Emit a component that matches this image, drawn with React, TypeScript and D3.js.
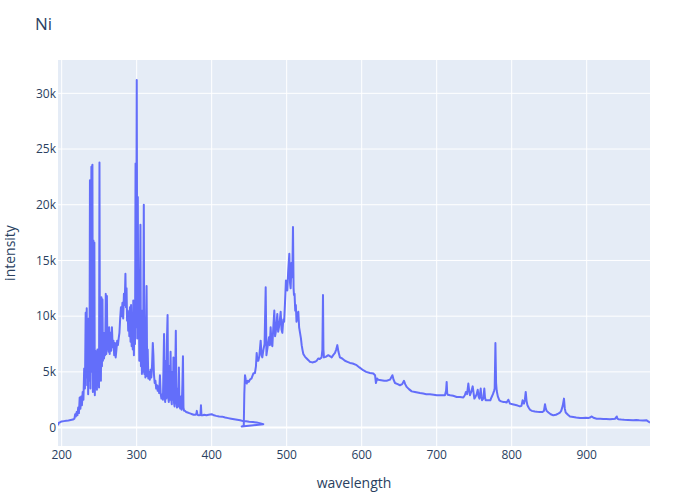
import React from "react";
import * as d3 from "d3";

const chartTitle = "Ni";
const xTitle = "wavelength";
const yTitle = "intensity";
const xTicks = [200, 300, 400, 500, 600, 700, 800, 900];
const yTicks = [0, 5000, 10000, 15000, 20000, 25000, 30000];

// spectrometer 1 (UV / blue): [wavelength, intensity]
const segmentA: [number, number][] = [
  [195.1, 200], [196, 420], [198, 480], [200, 550], [203, 580], [206, 610], [209, 640], [212, 680], [215, 720],
  [217, 800], [218, 1200], [219, 1000], [220, 1400], [221, 1100], [222, 1800], [223, 1300], [224, 2700], [225, 1700],
  [226, 2800], [227, 2000], [228, 3200], [229, 2500], [230, 5300], [231, 3500], [232, 10300], [232.7, 4500],
  [233.4, 10700], [234, 3800], [234.7, 9500], [235.3, 3000], [236, 9800], [236.6, 4200], [237.2, 8000], [237.7, 22200],
  [238.3, 3500], [239, 8500], [239.6, 23400], [240.3, 5000], [241, 23600], [241.6, 3200], [242.3, 16800], [243, 4500],
  [243.6, 16600], [244.2, 2900], [245, 6900], [245.7, 3600], [246.4, 6000], [247, 3400], [247.7, 7000], [248.4, 4000],
  [249, 6500], [249.8, 3600], [250.4, 23800], [251, 5000], [251.7, 8000], [252.3, 4200], [253, 11700], [253.7, 5500],
  [254.4, 11500], [255, 6000], [255.8, 8500], [256.5, 6200], [257.3, 7500], [258, 6500], [258.8, 12000], [259.5, 6600],
  [260.3, 11800], [261, 7000], [261.7, 8000], [262.5, 6800], [263.3, 9000], [264, 6600], [265, 8500], [266, 6900],
  [267, 9000], [268, 7200], [269, 7800], [270, 6500], [271, 7600], [272, 6300], [273, 7000], [274, 7800], [275, 7400],
  [276, 8000], [277, 8500], [278, 9800], [279, 10800], [280, 10000], [281, 11200], [282, 9800], [283, 12000],
  [284, 11000], [285, 13800], [285.7, 10800], [286.5, 12500], [287.2, 9600], [288, 10500], [288.7, 8700],
  [289.5, 10300], [290.2, 8200], [291, 10800], [291.8, 7700], [292.5, 11000], [293.3, 7300], [294, 10200],
  [294.8, 7000], [295.5, 11400], [296.3, 6500], [297, 11200], [297.8, 7500], [298.5, 23700], [299.3, 9000],
  [300.1, 31200], [300.8, 8000], [301.5, 20700], [302.2, 9000], [302.8, 12000], [303.5, 6000], [304.2, 10500],
  [305, 18200], [305.7, 5500], [306.4, 9000], [307, 4800], [307.8, 10500], [308.5, 5000], [309.5, 20000],
  [310.2, 4800], [311, 9000], [311.6, 4500], [312.3, 8000], [313.2, 12700], [314, 4600], [314.7, 7000], [315.5, 4400],
  [316.5, 5000], [317.5, 4300], [318.5, 5200], [319.5, 4500], [320.5, 5600], [321.5, 7600], [322.3, 6500],
  [323, 4800], [324, 4000], [325, 4200], [326, 3500], [327, 3800], [328, 3300], [329, 3700], [330, 3100], [331, 4700],
  [332, 3000], [333, 2600], [334, 3000], [335, 2500], [335.8, 5600], [336.5, 8400], [337.2, 3000], [338, 2300],
  [338.7, 6000], [339.5, 2600], [340.2, 7500], [341.2, 10100], [342, 2800], [342.8, 2300], [343.5, 5500],
  [344.2, 2500], [345.2, 6800], [346, 2600], [346.8, 2100], [347.5, 5000], [348.3, 2500], [349, 6300], [349.8, 2200],
  [350.5, 1900], [351.3, 4500], [352.2, 8700], [353, 2300], [353.8, 1800], [354.6, 3500], [355.3, 1900], [356.3, 5400],
  [357, 2000], [358, 1700], [359, 2800], [360, 1600], [361, 4000], [361.7, 6400], [362.4, 1800], [363.2, 1500],
  [364.5, 1500], [366, 1400], [368, 1350], [370, 1300], [372, 1250], [374, 1200], [376, 1150], [378, 1150],
  [379.5, 1200], [380.2, 1500], [381, 1150], [383, 1100], [385, 1150], [385.7, 2000], [386.4, 1100], [388, 1100],
  [390, 1150], [393, 1100], [396, 1150], [400, 1200], [403, 1100], [406, 1050], [410, 1000], [414, 980], [418, 900],
  [422, 850], [426, 800], [430, 750], [434, 700], [438, 650], [442, 580], [446, 560], [450, 530], [455, 500],
  [460, 450], [464, 400], [468.8, 300],
];

// spectrometer 2 (visible / NIR): [wavelength, intensity]
const segmentB: [number, number][] = [
  [440, 100], [441.5, 130], [442.8, 200], [443.5, 3000], [444.4, 4700], [445.5, 4300], [446.7, 3950], [448, 4200],
  [449.5, 4100], [451, 4300], [453, 4400], [455.5, 4850], [457.7, 4900], [459, 5500], [460, 6700], [461, 6000],
  [462.2, 6000], [463.5, 6400], [465.3, 7800], [466.5, 6500], [467.5, 6300], [469, 7000], [470.5, 7500],
  [472, 12600], [473, 6500], [474.5, 7200], [476.4, 8100], [477.5, 7400], [478.6, 9000], [479.8, 7600],
  [480.9, 7300], [482, 8800], [483.5, 10500], [484.5, 8200], [485.3, 8500], [486.4, 9200], [487.5, 10200],
  [488.6, 8600], [489.7, 9000], [490.8, 9600], [492, 10400], [493.1, 8800], [494.2, 8500], [495.5, 9700],
  [496.6, 9500], [497.7, 11100], [499, 13200], [500, 12500], [500.8, 12300], [502, 14000], [503.5, 15600],
  [504.4, 13000], [505.3, 12500], [506.5, 14800], [507.5, 13500], [508.4, 18000], [509.2, 12500], [509.7, 11900],
  [510.5, 12000], [511.4, 10500], [512.2, 11000], [513.1, 9500], [514.3, 10000], [515.5, 10400], [516.6, 9000],
  [517.8, 8500], [519, 8000], [520, 7400], [521, 7000], [522.2, 6600], [524.5, 6350], [526.7, 6200], [529, 6050],
  [531, 5900], [534, 5850], [537.7, 5900], [540, 6000], [542, 6200], [544, 6150], [546.5, 6300], [547.6, 7000],
  [548.4, 11900], [549, 7000], [549.7, 6300], [552, 6350], [555.5, 6500], [558, 6400], [560, 6300], [562, 6500],
  [564.4, 6700], [566, 7000], [567.5, 7400], [569, 6800], [571, 6300], [574, 6200], [577.7, 6000], [581, 5900],
  [584.4, 5800], [588, 5750], [593.3, 5600], [597, 5400], [602, 5150], [606, 5000], [611, 4900], [615.5, 4850],
  [617.8, 4700], [619, 4000], [620.5, 4400], [622, 4300], [626, 4250], [630, 4200], [633.3, 4200], [637.7, 4300],
  [641, 4700], [642.5, 4300], [644.4, 4000], [648, 3900], [651, 3800], [654, 3900], [656.4, 4200], [658, 3900],
  [660, 3650], [663, 3450], [666.7, 3250], [671, 3200], [677.7, 3100], [682, 3050], [686, 3000], [691, 3000],
  [696, 2950], [700, 2900], [705, 2900], [711, 2900], [712.5, 3300], [713.3, 4100], [714, 3100], [714.7, 2950],
  [718, 2900], [722, 2850], [726.7, 2750], [731, 2750], [735.5, 2700], [737.5, 2900], [739, 3200], [740.5, 3000],
  [742.2, 3950], [743.3, 3300], [744.4, 2900], [746, 3200], [748, 3700], [749, 3200], [750.2, 2600], [752, 2800],
  [753.3, 3000], [754.7, 3400], [755.8, 2800], [757, 2600], [758.7, 3500], [759.5, 2800], [760.5, 2450],
  [762, 2600], [763.5, 3500], [764.4, 2700], [765.3, 2450], [768, 2450], [771.5, 2450], [773, 2700], [775, 3000],
  [776.5, 3300], [777.3, 3500], [778.3, 7600], [779.2, 4000], [780, 3300], [781.5, 2800], [783.6, 2450],
  [786, 2350], [789, 2300], [791, 2300], [793.3, 2250], [795.5, 2500], [797.7, 2150], [801, 2100], [804, 2050],
  [806.7, 2000], [809, 1950], [811, 1900], [813, 1950], [814.6, 2450], [816.4, 2150], [817.6, 2500], [818.7, 3200],
  [819.8, 2400], [821, 2000], [822.5, 1800], [824.4, 1600], [827, 1500], [831, 1450], [834, 1420], [837.7, 1400],
  [841, 1400], [843, 1500], [844.4, 2100], [845.5, 1700], [846.6, 1500], [849, 1350], [852, 1200], [855.5, 1100],
  [859, 1150], [862, 1250], [864.4, 1350], [866, 1500], [868, 1950], [869.7, 2600], [870.8, 1700], [872, 1350],
  [875, 1150], [877.7, 1000], [882, 950], [886, 900], [891, 850], [895, 850], [899, 880], [902, 850], [904.4, 900],
  [906.7, 1000], [909, 880], [913.3, 800], [918, 800], [922, 780], [926, 770], [931, 750], [935, 760], [938, 800],
  [940, 1000], [941, 800], [942.2, 750], [946, 720], [950, 700], [955, 690], [962, 650], [966, 680], [970, 650],
  [975, 640], [980, 650], [982, 550], [984.4, 450],
];

const W = 700;
const H = 500;
const L = 58;
const R = 650;
const T = 60;
const B = 446;
const FONT = '"Open Sans", verdana, arial, sans-serif';
const TEXT = "#2a3f5f";

export default function App() {
  const x = d3.scaleLinear().domain([195.1, 984.4]).range([L, R]);
  const y = d3.scaleLinear().domain([-1653, 32990]).range([B, T]);
  const allPoints = [...segmentA, ...segmentB];
  const line = d3
    .line<[number, number]>()
    .x((d) => x(d[0]))
    .y((d) => y(d[1]));
  const fmt = d3.format("~s");

  return (
    <svg width={W} height={H} style={{ position: "absolute", left: 0, top: 0, background: "#fff" }}>
      <defs>
        <clipPath id="plotclip">
          <rect x={L} y={T} width={R - L} height={B - T} />
        </clipPath>
      </defs>
      <rect x={L} y={T} width={R - L} height={B - T} fill="#E5ECF6" />
      {xTicks.map((t) => (
        <line key={"gx" + t} x1={x(t)} x2={x(t)} y1={T} y2={B} stroke="#fff" strokeWidth={1} />
      ))}
      {yTicks.map((t) => (
        <line
          key={"gy" + t}
          x1={L}
          x2={R}
          y1={y(t)}
          y2={y(t)}
          stroke="#fff"
          strokeWidth={t === 0 ? 2 : 1}
        />
      ))}
      <path
        d={line(allPoints) || ""}
        fill="none"
        stroke="#636efa"
        strokeWidth={2}
        strokeLinejoin="round"
        clipPath="url(#plotclip)"
      />
      {xTicks.map((t) => (
        <text key={"tx" + t} x={x(t)} y={459} textAnchor="middle" fontFamily={FONT} fontSize={12} fill={TEXT}>
          {t}
        </text>
      ))}
      {yTicks.map((t) => (
        <text
          key={"ty" + t}
          x={56}
          y={y(t)}
          dy="0.35em"
          textAnchor="end"
          fontFamily={FONT}
          fontSize={12}
          fill={TEXT}
        >
          {fmt(t)}
        </text>
      ))}
      <text x={35} y={30} fontFamily={FONT} fontSize={17} fill={TEXT}>
        {chartTitle}
      </text>
      <text x={(L + R) / 2} y={488} textAnchor="middle" fontFamily={FONT} fontSize={14} fill={TEXT}>
        {xTitle}
      </text>
      <text
        transform={`translate(15,${(T + B) / 2}) rotate(-90)`}
        textAnchor="middle"
        fontFamily={FONT}
        fontSize={14}
        fill={TEXT}
      >
        {yTitle}
      </text>
    </svg>
  );
}
